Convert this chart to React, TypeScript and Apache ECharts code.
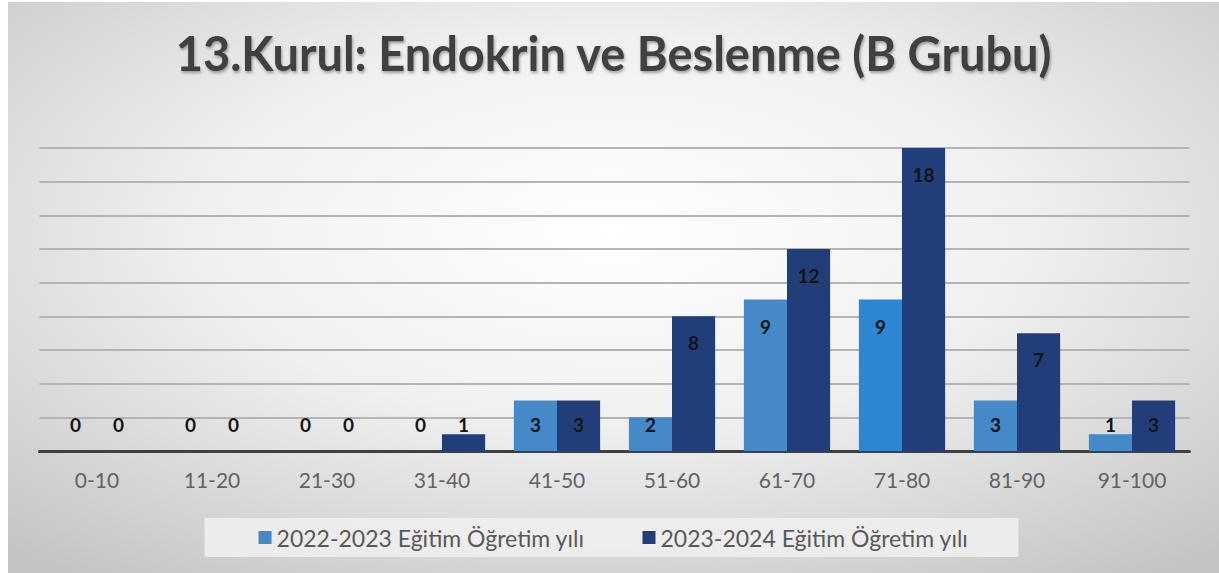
import React, { useEffect, useRef } from "react";
import * as echarts from "echarts";

const categories = ["0-10", "11-20", "21-30", "31-40", "41-50", "51-60", "61-70", "71-80", "81-90", "91-100"];
const series2022 = [0, 0, 0, 0, 3, 2, 9, 9, 3, 1];
const series2023 = [0, 0, 0, 1, 3, 8, 12, 18, 7, 3];
const seriesNames = ["2022-2023 Eğitim Öğretim yılı", "2023-2024 Eğitim Öğretim yılı"];
const titleText = "13.Kurul: Endokrin ve Beslenme (B Grubu)";

const LIGHT = "#4689c8";
const LIGHT_BRIGHT = "#2c86d2";
const DARK = "#213e7b";

function labelFor(v: number) {
  return v <= 3
    ? { position: "insideBottom", distance: 17 }
    : { position: "insideTop", distance: 17 };
}

export default function App() {
  const ref = useRef<HTMLDivElement>(null);
  useEffect(() => {
    document.body.style.margin = "0";
    const chart = echarts.init(ref.current!, null, { renderer: "svg" });
    const font = "Lato, 'Open Sans', sans-serif";
    const commonLabel = {
      show: true,
      color: "#141414",
      fontWeight: "bold",
      fontSize: 19,
      fontFamily: font,
    };
    chart.setOption({
      animation: false,
      backgroundColor: new echarts.graphic.RadialGradient(0.5, 0.4, 0.75, [
        { offset: 0, color: "#ffffff" },
        { offset: 0.45, color: "#f0f0f0" },
        { offset: 1, color: "#c4c4c4" },
      ]),
      title: {
        text: titleText,
        left: "center",
        top: 22,
        textStyle: {
          fontFamily: font,
          fontSize: 47,
          fontWeight: "bold",
          color: "#3f3f3f",
          textShadowColor: "rgba(0,0,0,0.35)",
          textShadowBlur: 3,
          textShadowOffsetX: 1,
          textShadowOffsetY: 2,
        },
      },
      legend: {
        data: seriesNames,
        bottom: 16,
        left: "center",
        icon: "rect",
        itemWidth: 13,
        itemHeight: 13,
        itemGap: 58,
        itemTextGap: 3,
        backgroundColor: "rgba(238,238,238,0.9)",
        padding: [8, 50, 8, 54],
        textStyle: { fontFamily: font, fontSize: 23, color: "#595959" },
      },
      grid: { left: 31.5, right: 29.5, top: 146, bottom: 122 },
      xAxis: {
        type: "category",
        data: categories,
        axisLine: { lineStyle: { color: "#404040", width: 3 } },
        axisTick: { show: false },
        axisLabel: { fontFamily: font, fontSize: 21, color: "#636363", margin: 18 },
      },
      yAxis: {
        type: "value",
        min: 0,
        max: 18,
        interval: 2,
        axisLabel: { show: false },
        axisLine: { show: false },
        axisTick: { show: false },
        splitLine: { lineStyle: { color: "#b4b4b4", width: 2 } },
      },
      series: [
        {
          name: seriesNames[0],
          type: "bar",
          barGap: "0%",
          barCategoryGap: "25%",
          itemStyle: { color: LIGHT },
          label: commonLabel,
          data: series2022.map((v, i) => ({
            value: v,
            label: labelFor(v),
            itemStyle: i === 7 ? { color: LIGHT_BRIGHT } : undefined,
          })),
        },
        {
          name: seriesNames[1],
          type: "bar",
          barGap: "0%",
          barCategoryGap: "25%",
          itemStyle: { color: DARK },
          label: commonLabel,
          data: series2023.map((v) => ({ value: v, label: labelFor(v) })),
        },
      ],
    });
    return () => chart.dispose();
  }, []);
  return (
    <div style={{ width: 1219, height: 573, background: "#ffffff", position: "relative" }}>
      <div ref={ref} style={{ position: "absolute", left: 8, top: 2, width: 1211, height: 571 }} />
    </div>
  );
}
